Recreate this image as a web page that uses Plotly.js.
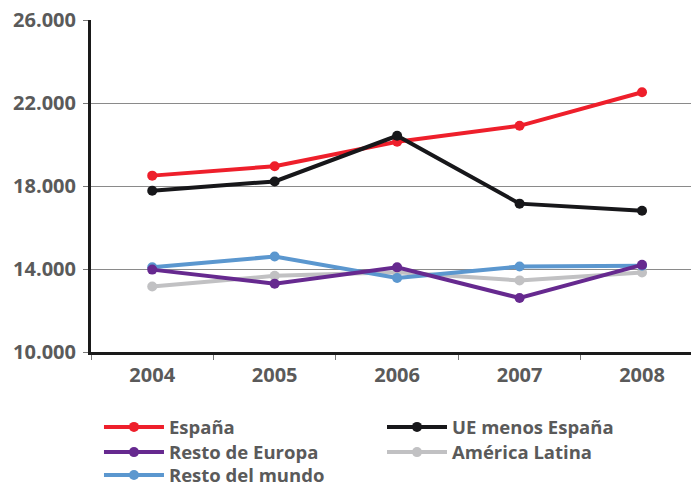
<!DOCTYPE html>
<html><head><meta charset="utf-8">
<script src="https://cdn.plot.ly/plotly-3.0.1.min.js"></script>
<style>html,body{margin:0;padding:0;background:#fff;}#chart{width:691px;height:489px;}</style>
</head><body><div id="chart"></div>
<script>
const years = ['2004','2005','2006','2007','2008'];
const espana = [18500, 18950, 20130, 20900, 22520];
const ueMenosEspana = [17770, 18220, 20420, 17150, 16810];
const restoEuropa = [13970, 13290, 14080, 12600, 14200];
const americaLatina = [13160, 13670, 13840, 13450, 13830];
const restoMundo = [14080, 14600, 13570, 14120, 14160];
const yTicks = [10000, 14000, 18000, 22000, 26000];
const yTickText = ['10.000', '14.000', '18.000', '22.000', '26.000'];

const FONT = 'Open Sans, DejaVu Sans, sans-serif';
const TXT = '#5a5a5a';

function tr(name, y, color, leg) {
  return {x: years, y: y, name: name, type: 'scatter', mode: 'lines+markers',
    legend: leg, line: {color: color, width: 4}, marker: {color: color, size: 10}};
}
const data = [
  tr('América Latina', americaLatina, '#c1c1c3', 'legend4'),
  tr('Resto del mundo', restoMundo, '#5b97cf', 'legend5'),
  tr('Resto de Europa', restoEuropa, '#66298f', 'legend3'),
  tr('España', espana, '#ee1f2b', 'legend'),
  tr('UE menos España', ueMenosEspana, '#17171a', 'legend2')
];

function leg(x, y) {
  return {x: x, y: y, xanchor: 'left', yanchor: 'middle', bgcolor: 'rgba(0,0,0,0)',
    borderwidth: 0, itemwidth: 60, font: {family: FONT, size: 18.5, color: TXT, weight: 'bold'}};
}
const c1 = 0.0133, c2 = 0.485;
const layout = {
  width: 691, height: 489,
  margin: {l: 91, r: 0, t: 20, b: 137, autoexpand: false},
  paper_bgcolor: '#fff', plot_bgcolor: '#fff',
  showlegend: true,
  xaxis: {
    type: 'category', range: [-0.5, 4.4], tickson: 'boundaries',
    ticks: 'outside', ticklen: 5, tickcolor: '#777', tickwidth: 1, ticklabelstandoff: 3,
    showgrid: false, zeroline: false,
    showline: true, linecolor: '#1a1a1a', linewidth: 2.5,
    tickfont: {family: FONT, size: 20, color: TXT, weight: 'bold'},
    fixedrange: true
  },
  yaxis: {
    range: [10000, 26000], tickmode: 'array', tickvals: yTicks, ticktext: yTickText,
    ticks: 'outside', ticklen: 5, tickcolor: '#777', tickwidth: 1, ticklabelstandoff: 3,
    showgrid: true, gridcolor: '#8a8a8a', gridwidth: 1, zeroline: false,
    showline: true, linecolor: '#1a1a1a', linewidth: 3,
    tickfont: {family: FONT, size: 20, color: TXT, weight: 'bold'},
    fixedrange: true
  },
  legend: leg(c1, -0.227),
  legend2: leg(c2, -0.227),
  legend3: leg(c1, -0.303),
  legend4: leg(c2, -0.303),
  legend5: leg(c1, -0.372)
};
Plotly.newPlot('chart', data, layout, {displayModeBar: false, staticPlot: true});
</script></body></html>
